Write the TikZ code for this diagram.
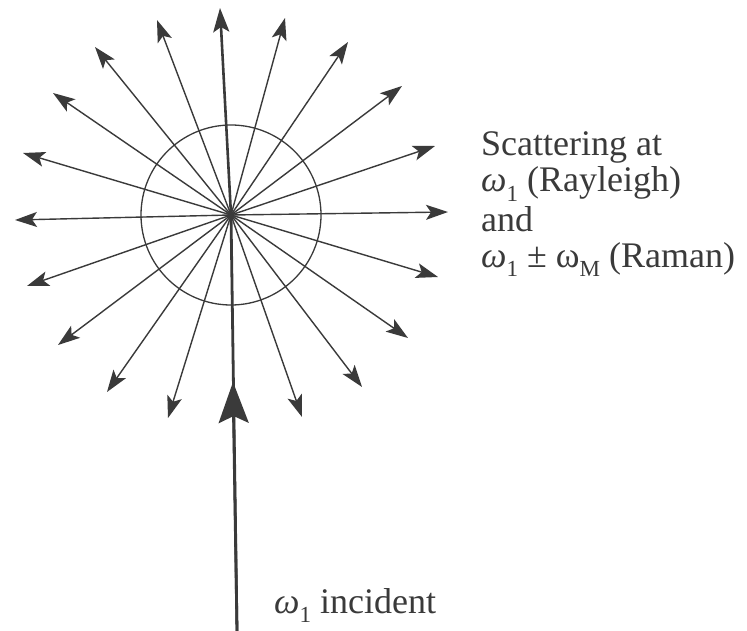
\documentclass[tikz,border=0pt]{standalone}
\usepackage{fontspec}
\setmainfont{Liberation Serif}
\usetikzlibrary{arrows.meta}
\definecolor{ink}{HTML}{3A3A3A}
\newcommand{\omw}{{\itshape ω}}
\newcommand{\mysub}[1]{\raisebox{-0.26em}{\fontsize{23}{23}\selectfont #1}}
\begin{document}
\begin{tikzpicture}[x=1pt,y=-1pt,
  ray/.style={draw=ink, line width=1.4pt, -{Stealth[length=22pt,width=15pt,inset=5pt]}},
  mainray/.style={draw=ink, line width=2.6pt, -{Stealth[length=24pt,width=16pt,inset=5pt]}},
  inc/.style={draw=ink, line width=2.8pt},
  lbl/.style={text=ink, inner sep=0pt, anchor=base west, font=\fontsize{36}{36}\selectfont}]
\useasboundingbox (0,0) rectangle (747,631);
\fill[white] (0,0) rectangle (747,631);
\coordinate (c) at (231,215);
\coordinate (inb) at (237,631);
\coordinate (intip) at (233,382);
\coordinate (up) at (220,8);
% circle
\node[draw=ink, line width=1.3pt, circle, minimum size=180pt, inner sep=0pt] (circ) at (c) {};
% scattered rays
\foreach \i/\p in {1/{157,20},2/{285,18},3/{95,47},4/{348,42},5/{53,93},6/{402,86},
  7/{23,153},8/{435,146},9/{15,220},10/{448,212},11/{27,286},12/{438,277},
  13/{58,345},14/{408,338},15/{107,392},16/{362,387},17/{168,418},18/{302,417}}{
  \coordinate (r\i) at (\p);
  \draw[ray] (c) -- (r\i);
}
\draw[mainray] (c) -- (up);
% incident beam
\draw[inc] (inb) -- (c);
\draw[inc, -{Stealth[length=41pt,width=30pt,inset=7pt]}] (inb) -- (intip);
% labels
\node[lbl] (t1) at (481,156) {Scattering at};
\node[lbl] (t2) at (481,192) {\omw\mysub{1} (Rayleigh)};
\node[lbl] (t3) at (481,232) {and};
\node[lbl] (t4) at (481,267) {\omw\mysub{1} ± ω\mysub{M} (Raman)};
\node[lbl] (t5) at (274,613) {\omw\mysub{1} incident};
\end{tikzpicture}
\end{document}
